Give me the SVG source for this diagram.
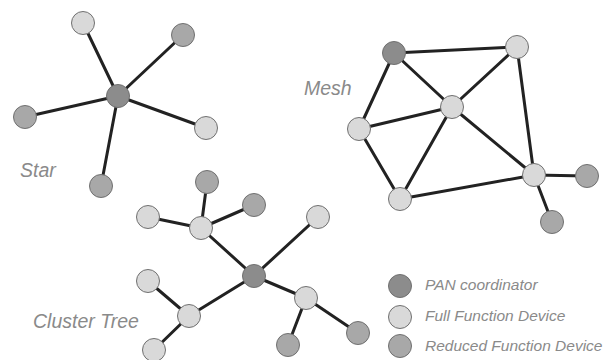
<svg xmlns="http://www.w3.org/2000/svg" width="611" height="360" viewBox="0 0 611 360">
  <style>
    .edge { stroke: #222; stroke-width: 3; stroke-linecap: round; }
    .node { stroke: #707070; stroke-width: 1; }
    .pan { fill: #8c8c8c; }
    .ffd { fill: #d9d9d9; }
    .rfd { fill: #a8a8a8; }
    .label { font-family: "Liberation Sans", Arial, sans-serif; font-style: italic; fill: #8a8a8a; }
    .topo { font-size: 19.5px; }
    .legend { font-size: 15.5px; }
  </style>
  <rect width="611" height="360" fill="#fff"/>

  <!-- links -->
  <g id="connectors">
    <!-- star -->
    <line class="edge" x1="118" y1="96" x2="83" y2="23"/>
    <line class="edge" x1="118" y1="96" x2="183" y2="35"/>
    <line class="edge" x1="118" y1="96" x2="25" y2="117"/>
    <line class="edge" x1="118" y1="96" x2="206" y2="128"/>
    <line class="edge" x1="118" y1="96" x2="101" y2="186"/>
    <!-- mesh -->
    <line class="edge" x1="394" y1="53" x2="517" y2="47"/>
    <line class="edge" x1="394" y1="53" x2="452" y2="107"/>
    <line class="edge" x1="394" y1="53" x2="359" y2="129"/>
    <line class="edge" x1="517" y1="47" x2="452" y2="107"/>
    <line class="edge" x1="517" y1="47" x2="534" y2="175"/>
    <line class="edge" x1="452" y1="107" x2="359" y2="129"/>
    <line class="edge" x1="452" y1="107" x2="400" y2="199"/>
    <line class="edge" x1="452" y1="107" x2="534" y2="175"/>
    <line class="edge" x1="359" y1="129" x2="400" y2="199"/>
    <line class="edge" x1="400" y1="199" x2="534" y2="175"/>
    <line class="edge" x1="534" y1="175" x2="587" y2="176"/>
    <line class="edge" x1="534" y1="175" x2="552" y2="222"/>
    <!-- cluster tree -->
    <line class="edge" x1="254" y1="276" x2="201" y2="228"/>
    <line class="edge" x1="254" y1="276" x2="318" y2="217"/>
    <line class="edge" x1="254" y1="276" x2="189" y2="316"/>
    <line class="edge" x1="254" y1="276" x2="306" y2="298"/>
    <line class="edge" x1="201" y1="228" x2="207" y2="182"/>
    <line class="edge" x1="201" y1="228" x2="254" y2="205"/>
    <line class="edge" x1="201" y1="228" x2="148" y2="217"/>
    <line class="edge" x1="189" y1="316" x2="148" y2="281"/>
    <line class="edge" x1="189" y1="316" x2="154" y2="350"/>
    <line class="edge" x1="306" y1="298" x2="288" y2="345"/>
    <line class="edge" x1="306" y1="298" x2="358" y2="333"/>
  </g>

  <!-- star topology -->
  <g id="star-pan"><circle class="node pan" cx="118" cy="96" r="11.5"/></g>
  <g id="star-ffd-1"><circle class="node ffd" cx="83" cy="23" r="11.5"/></g>
  <g id="star-rfd-1"><circle class="node rfd" cx="183" cy="35" r="11.5"/></g>
  <g id="star-rfd-2"><circle class="node rfd" cx="25" cy="117" r="11.5"/></g>
  <g id="star-ffd-2"><circle class="node ffd" cx="206" cy="128" r="11.5"/></g>
  <g id="star-rfd-3"><circle class="node rfd" cx="101" cy="186" r="11.5"/></g>

  <!-- mesh topology -->
  <g id="mesh-pan"><circle class="node pan" cx="394" cy="53" r="11.5"/></g>
  <g id="mesh-ffd-1"><circle class="node ffd" cx="517" cy="47" r="11.5"/></g>
  <g id="mesh-ffd-2"><circle class="node ffd" cx="452" cy="107" r="11.5"/></g>
  <g id="mesh-ffd-3"><circle class="node ffd" cx="359" cy="129" r="11.5"/></g>
  <g id="mesh-ffd-4"><circle class="node ffd" cx="400" cy="199" r="11.5"/></g>
  <g id="mesh-ffd-5"><circle class="node ffd" cx="534" cy="175" r="11.5"/></g>
  <g id="mesh-rfd-1"><circle class="node rfd" cx="587" cy="176" r="11.5"/></g>
  <g id="mesh-rfd-2"><circle class="node rfd" cx="552" cy="222" r="11.5"/></g>

  <!-- cluster tree topology -->
  <g id="tree-pan"><circle class="node pan" cx="254" cy="276" r="11.5"/></g>
  <g id="tree-ffd-a"><circle class="node ffd" cx="201" cy="228" r="11.5"/></g>
  <g id="tree-rfd-a1"><circle class="node rfd" cx="207" cy="182" r="11.5"/></g>
  <g id="tree-rfd-a2"><circle class="node rfd" cx="254" cy="205" r="11.5"/></g>
  <g id="tree-ffd-a3"><circle class="node ffd" cx="148" cy="217" r="11.5"/></g>
  <g id="tree-ffd-d"><circle class="node ffd" cx="318" cy="217" r="11.5"/></g>
  <g id="tree-ffd-b"><circle class="node ffd" cx="189" cy="316" r="11.5"/></g>
  <g id="tree-ffd-b1"><circle class="node ffd" cx="148" cy="281" r="11.5"/></g>
  <g id="tree-ffd-b2"><circle class="node ffd" cx="154" cy="350" r="11.5"/></g>
  <g id="tree-ffd-c"><circle class="node ffd" cx="306" cy="298" r="11.5"/></g>
  <g id="tree-rfd-c1"><circle class="node rfd" cx="288" cy="345" r="11.5"/></g>
  <g id="tree-rfd-c2"><circle class="node rfd" cx="358" cy="333" r="11.5"/></g>

  <!-- topology names -->
  <text class="label topo" x="20" y="177">Star</text>
  <text class="label topo" x="304" y="95">Mesh</text>
  <text class="label topo" x="33" y="328">Cluster Tree</text>

  <!-- legend -->
  <g id="legend">
    <circle class="node pan" cx="400" cy="286" r="11.5"/>
    <circle class="node ffd" cx="400" cy="317" r="11.5"/>
    <circle class="node rfd" cx="400" cy="346" r="11.5"/>
    <text class="label legend" x="425" y="290">PAN coordinator</text>
    <text class="label legend" x="425" y="321">Full Function Device</text>
    <text class="label legend" x="425" y="351">Reduced Function Device</text>
  </g>
</svg>
